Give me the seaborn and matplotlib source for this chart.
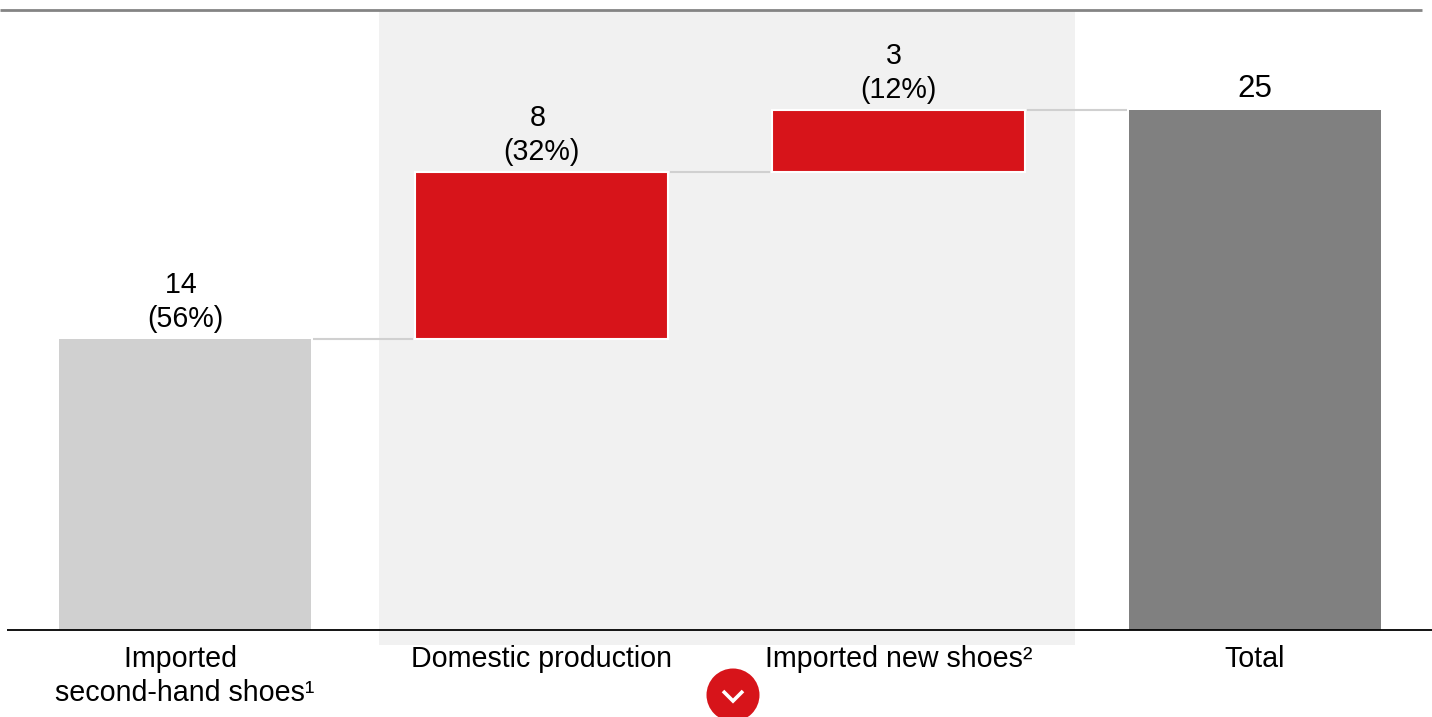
import matplotlib
matplotlib.use("Agg")
import matplotlib.pyplot as plt
from matplotlib.patches import Ellipse, Rectangle
import seaborn as sns

# Shoe supply breakdown, drawn as a waterfall
categories = ["Imported \nsecond-hand shoes¹", "Domestic production",
              "Imported new shoes²", "Total"]
values = [14, 8, 3, 25]
starts = [0, 14, 22, 0]
labels = ["14 \n(56%)", "8 \n(32%)", "3 \n(12%)", "25"]
bar_colors = ["#D0D0D0", "#D7141A", "#D7141A", "#808080"]

W, H = 1432, 717
sns.set_theme(style="white")
plt.rcParams["font.family"] = ["Liberation Sans", "DejaVu Sans"]

fig = plt.figure(figsize=(W / 100, H / 100), dpi=100)
ax = fig.add_axes([0, 0, 1, 1])
ax.patch.set_alpha(0)


def frac(px, py):
    """Pixel position to axes fraction, with y measured from the top."""
    return px / W, 1 - py / H


# Shaded band behind the two red steps
x0, y0 = frac(379, 645)
ax.add_patch(Rectangle((x0, y0), (1075 - 379) / W, (645 - 10) / H,
                       transform=ax.transAxes, color="#F1F1F1", lw=0, zorder=0))

for cat, val, start, col in zip(categories, values, starts, bar_colors):
    is_step = col == "#D7141A"
    sns.barplot(x=[cat], y=[val], order=categories, bottom=start, color=col,
                saturation=1, width=0.708, ax=ax, zorder=2,
                edgecolor="white" if is_step else col,
                linewidth=1.5 if is_step else 0)

unit = 20.8
spacing = 356.67
ax.set_xlim(-185 / spacing, (W - 185) / spacing)
ax.set_ylim(-(H - 630) / unit, 630 / unit)
ax.set_xlabel("")
ax.set_ylabel("")
sns.despine(ax=ax, left=True, bottom=True, top=True, right=True)
ax.set_yticks([])
ax.tick_params(axis="x", length=0, pad=-52, labelsize=20.6, labelcolor="black")
for tick in ax.get_xticklabels():
    tick.set_linespacing(1.27)
    tick.set_verticalalignment("top")

# Connectors between consecutive bars
for i, level in enumerate([14, 22, 25]):
    ax.plot([i + 0.36, i + 0.64], [level, level], color="#D0D0D0", lw=1.5,
            zorder=1, solid_capstyle="butt")

# Value labels above each bar
for i, (text, val, start) in enumerate(zip(labels, values, starts)):
    size = 22.5 if i == 3 else 20.6
    ax.annotate(text, (i, val + start), xytext=(0, 4.5 if i < 3 else 4.5),
                textcoords="offset points", ha="center", va="bottom",
                fontsize=size, linespacing=1.27, color="black", zorder=3)

# Top rule and baseline
ax.plot([0, 1422 / W], [1 - 9.5 / H] * 2, transform=ax.transAxes,
        color="#848484", lw=2, zorder=3, solid_capstyle="butt")
ax.plot([7 / W, 1], [1 - 630 / H] * 2, transform=ax.transAxes,
        color="black", lw=1.3, zorder=3, solid_capstyle="butt")

# Round expand button with a chevron
cx, cy = frac(733, 695)
ax.add_patch(Ellipse((cx, cy), 53 / W, 53 / H, transform=ax.transAxes,
                     color="#D7141A", lw=0, zorder=4, clip_on=True))
pts = [frac(723, 691), frac(733, 701), frac(743, 691)]
ax.plot(*zip(*pts), transform=ax.transAxes, color="white", lw=2.6,
        zorder=5, solid_capstyle="butt", solid_joinstyle="miter")

fig.savefig("out.png", dpi=100, facecolor="white")
